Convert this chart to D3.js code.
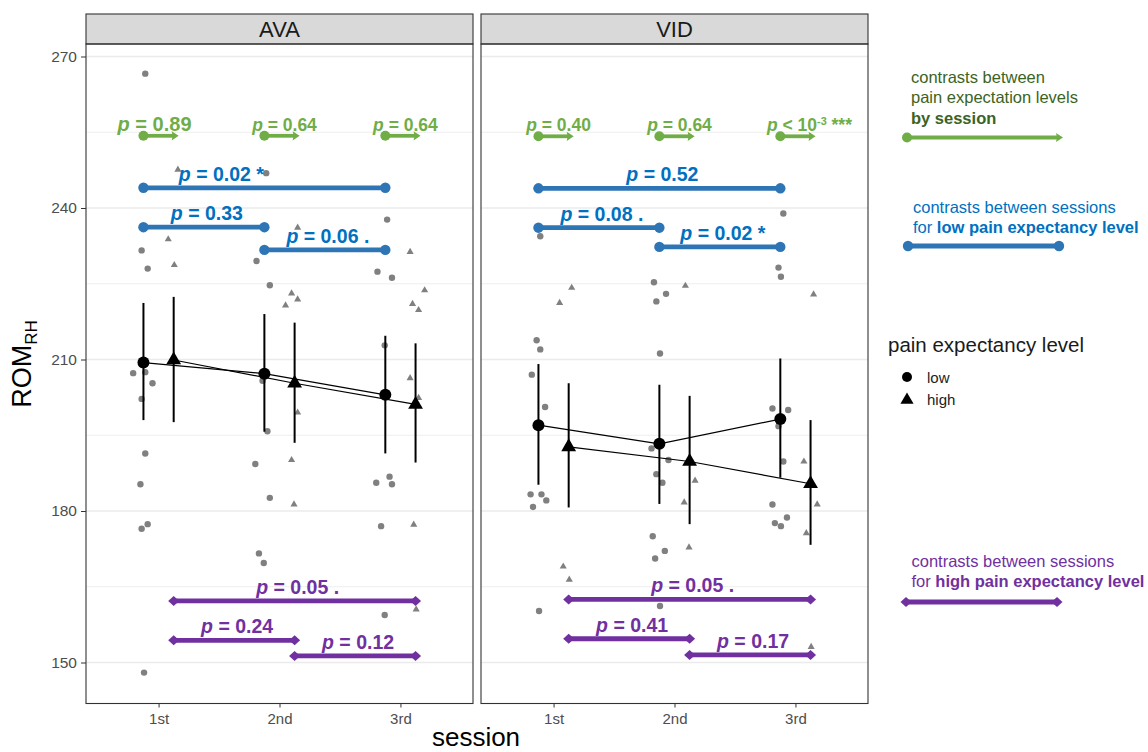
<!DOCTYPE html>
<html>
<head>
<meta charset="utf-8">
<script src="https://cdn.jsdelivr.net/npm/d3@7"></script>
<style>
  body { margin: 0; background: #fff; }
  svg { font-family: "Liberation Sans", Arial, sans-serif; }
</style>
</head>
<body>
<div id="main"></div>
<script>
// ---- data ----
var panels = ['AVA', 'VID'];
var sessions = ['1st', '2nd', '3rd'];
var yTicks = [150, 180, 210, 240, 270];
var yMinor = [165, 195, 225, 255];

// estimated means with error bars: panel, level, session, mean, lower, upper
var means = [
  ['AVA', 'low', '1st', 209.4, 198.0, 221.2],
  ['AVA', 'low', '2nd', 207.2, 195.7, 219.0],
  ['AVA', 'low', '3rd', 203.0, 191.4, 214.7],
  ['AVA', 'high', '1st', 209.9, 197.6, 222.4],
  ['AVA', 'high', '2nd', 205.3, 193.5, 217.3],
  ['AVA', 'high', '3rd', 201.1, 189.6, 213.2],
  ['VID', 'low', '1st', 197.0, 185.2, 209.1],
  ['VID', 'low', '2nd', 193.3, 181.4, 205.0],
  ['VID', 'low', '3rd', 198.2, 186.6, 210.2],
  ['VID', 'high', '1st', 192.7, 180.7, 205.3],
  ['VID', 'high', '2nd', 189.8, 177.4, 202.8],
  ['VID', 'high', '3rd', 185.4, 173.3, 198.0]
];

// individual observations: session, jitter (session units), value
var avaLow = [
  ['1st', -0.11, 266.6], ['1st', -0.14, 231.6], ['1st', -0.09, 228.0], ['1st', -0.14, 209.0],
  ['1st', -0.21, 207.3], ['1st', -0.11, 207.5], ['1st', -0.05, 205.3], ['1st', -0.14, 202.2],
  ['1st', -0.11, 191.4], ['1st', -0.15, 185.3], ['1st', -0.09, 177.4], ['1st', -0.14, 176.5],
  ['1st', -0.12, 148.0],
  ['2nd', -0.11, 246.9], ['2nd', -0.19, 229.5], ['2nd', -0.08, 224.7], ['2nd', -0.14, 205.8],
  ['2nd', -0.10, 195.8], ['2nd', -0.20, 189.3], ['2nd', -0.08, 182.6], ['2nd', -0.17, 171.6],
  ['2nd', -0.13, 169.7],
  ['3rd', -0.11, 237.7], ['3rd', -0.19, 227.4], ['3rd', -0.07, 226.2], ['3rd', -0.13, 212.8],
  ['3rd', -0.20, 185.6], ['3rd', -0.09, 186.8], ['3rd', -0.07, 185.3], ['3rd', -0.16, 177.0],
  ['3rd', -0.13, 159.4]
];
var avaHigh = [
  ['1st', 0.16, 247.6], ['1st', 0.08, 233.8], ['1st', 0.13, 228.7],
  ['2nd', 0.15, 236.1], ['2nd', 0.10, 223.1], ['2nd', 0.15, 221.9], ['2nd', 0.05, 220.7],
  ['2nd', 0.15, 199.5], ['2nd', 0.10, 190.1], ['2nd', 0.12, 181.3],
  ['3rd', 0.08, 231.3], ['3rd', 0.20, 223.7], ['3rd', 0.10, 221.0], ['3rd', 0.15, 219.8],
  ['3rd', 0.08, 206.3], ['3rd', 0.15, 202.4], ['3rd', 0.11, 177.3], ['3rd', 0.13, 160.5]
];
var vidLow = [
  ['1st', -0.11, 234.4], ['1st', -0.14, 213.8], ['1st', -0.11, 212.0], ['1st', -0.18, 207.0],
  ['1st', -0.07, 200.6], ['1st', -0.19, 183.3], ['1st', -0.10, 183.3], ['1st', -0.06, 182.1],
  ['1st', -0.17, 180.8], ['1st', -0.12, 160.2],
  ['2nd', -0.17, 225.3], ['2nd', -0.07, 223.0], ['2nd', -0.15, 221.5], ['2nd', -0.12, 211.2],
  ['2nd', -0.19, 192.4], ['2nd', -0.05, 190.1], ['2nd', -0.15, 187.3], ['2nd', -0.10, 185.6],
  ['2nd', -0.18, 175.0], ['2nd', -0.08, 172.1], ['2nd', -0.16, 170.6], ['2nd', -0.12, 161.2],
  ['3rd', -0.10, 238.9], ['3rd', -0.14, 228.2], ['3rd', -0.12, 226.4], ['3rd', -0.19, 200.3],
  ['3rd', -0.06, 200.0], ['3rd', -0.14, 196.8], ['3rd', -0.10, 189.8], ['3rd', -0.19, 181.3],
  ['3rd', -0.07, 178.7], ['3rd', -0.17, 177.6], ['3rd', -0.12, 177.0]
];
var vidHigh = [
  ['1st', 0.15, 224.2], ['1st', 0.05, 221.2], ['1st', 0.08, 169.0], ['1st', 0.13, 166.4],
  ['2nd', 0.09, 224.6], ['2nd', 0.17, 186.0], ['2nd', 0.08, 181.7], ['2nd', 0.12, 172.8],
  ['3rd', 0.15, 222.9], ['3rd', 0.07, 189.8], ['3rd', 0.18, 181.3], ['3rd', 0.09, 175.6],
  ['3rd', 0.13, 153.1]
];

// contrasts low vs high within a session: panel, session, y, label
var levelContrasts = [
  ['AVA', '1st', 254.3, '= 0.89'], ['AVA', '2nd', 254.3, '= 0.64'], ['AVA', '3rd', 254.3, '= 0.64'],
  ['VID', '1st', 254.2, '= 0.40'], ['VID', '2nd', 254.2, '= 0.64'], ['VID', '3rd', 254.2, '< 10^-3^ ***']
];
// contrasts between sessions, low level: panel, from, to, y, label
var lowContrasts = [
  ['AVA', '1st', '3rd', 244.0, '= 0.02 *'], ['AVA', '1st', '2nd', 236.2, '= 0.33'], ['AVA', '2nd', '3rd', 231.7, '= 0.06 .'],
  ['VID', '1st', '3rd', 243.9, '= 0.52'], ['VID', '1st', '2nd', 236.1, '= 0.08 .'], ['VID', '2nd', '3rd', 232.3, '= 0.02 *']
];
// contrasts between sessions, high level
var highContrasts = [
  ['AVA', '1st', '3rd', 162.2, '= 0.05 .'], ['AVA', '1st', '2nd', 154.4, '= 0.24'], ['AVA', '2nd', '3rd', 151.3, '= 0.12'],
  ['VID', '1st', '3rd', 162.5, '= 0.05 .'], ['VID', '1st', '2nd', 154.7, '= 0.41'], ['VID', '2nd', '3rd', 151.5, '= 0.17']
];

var raw = {AVA: {low: avaLow, high: avaHigh}, VID: {low: vidLow, high: vidHigh}};

// ---- layout ----
var W = 1148, H = 752;
var panelTop = 44, panelBottom = 703.5, stripTop = 14, panelW = 387;
var panelX = {AVA: 86, VID: 481};
var green = '#70AD47', blue = '#2E75B6', blueText = '#0070C0', purple = '#7030A0';

var svg = d3.select('#main').append('svg').attr('width', W).attr('height', H);

var x = d3.scaleLinear().domain([0.4, 3.6]).range([0, panelW]);
var y = d3.scaleLinear().domain([150, 270]).range([662.5, 56.5]);
var dodge = {low: -0.125, high: 0.125};
function sx(s, lvl, j) { return x(sessions.indexOf(s) + 1 + (lvl ? dodge[lvl] : 0) + (j || 0)); }

// label nudge (px) for the one hand-placed annotation
var nudge = {'AVA|1st|3rd|low': -43};

function markerCircle(g, cx, cy, col, r) {
  g.append('circle').attr('cx', cx).attr('cy', cy).attr('r', r || 5.2).attr('fill', col);
}
function markerDiamond(g, cx, cy, col) {
  g.append('path').attr('d', 'M' + (cx - 5.5) + ',' + cy + 'L' + cx + ',' + (cy - 5) + 'L' + (cx + 5.5) + ',' + cy + 'L' + cx + ',' + (cy + 5) + 'Z').attr('fill', col);
}
function markerArrow(g, tx, cy, col) {
  g.append('path').attr('d', 'M' + (tx + 5) + ',' + cy + 'L' + (tx - 2) + ',' + (cy - 4.6) + 'L' + (tx - 1) + ',' + cy + 'L' + (tx - 2) + ',' + (cy + 4.6) + 'Z').attr('fill', col);
}

function pLabel(g, cx, baseY, label, col, size) {
  var t = g.append('text').attr('x', cx).attr('y', baseY).attr('text-anchor', 'middle')
    .attr('font-weight', 'bold').attr('font-size', size).attr('fill', col);
  t.append('tspan').attr('font-style', 'italic').text('p');
  var parts = label.split('^');
  t.append('tspan').text(' ' + parts[0]);
  if (parts.length > 1) {
    t.append('tspan').attr('font-size', size * 0.62).attr('dy', -size * 0.38).text(parts[1]);
    t.append('tspan').attr('dy', size * 0.38).text(parts[2]);
  }
}

panels.forEach(function(panel) {
  var g = svg.append('g').attr('transform', 'translate(' + panelX[panel] + ',0)');

  // strip
  g.append('rect').attr('x', 0).attr('y', stripTop).attr('width', panelW).attr('height', panelTop - stripTop)
    .attr('fill', '#d9d9d9').attr('stroke', '#333').attr('stroke-width', 1.1);
  g.append('text').attr('x', panelW / 2).attr('y', 37).attr('text-anchor', 'middle')
    .attr('font-size', 22).attr('fill', '#1a1a1a').text(panel);

  // grid
  g.selectAll('.minor').data(yMinor).enter().append('line')
    .attr('x1', 0).attr('x2', panelW).attr('y1', function(d) { return y(d); }).attr('y2', function(d) { return y(d); })
    .attr('stroke', '#eeeeee').attr('stroke-width', 1);
  g.selectAll('.major').data(yTicks).enter().append('line')
    .attr('x1', 0).attr('x2', panelW).attr('y1', function(d) { return y(d); }).attr('y2', function(d) { return y(d); })
    .attr('stroke', '#ebebeb').attr('stroke-width', 1.3);

  // raw observations
  ['low', 'high'].forEach(function(lvl) {
    var pts = raw[panel][lvl];
    if (lvl === 'low') {
      g.selectAll('.raw-' + lvl).data(pts).enter().append('circle')
        .attr('cx', function(d) { return sx(d[0], null, d[1]); })
        .attr('cy', function(d) { return y(d[2]); })
        .attr('r', 3.2).attr('fill', '#808080');
    } else {
      g.selectAll('.raw-' + lvl).data(pts).enter().append('path')
        .attr('d', d3.symbol().type(d3.symbolTriangle).size(22))
        .attr('transform', function(d) { return 'translate(' + sx(d[0], null, d[1]) + ',' + y(d[2]) + ')'; })
        .attr('fill', '#808080');
    }
  });

  // mean lines
  var line = d3.line().x(function(d) { return sx(d[2], d[1]); }).y(function(d) { return y(d[3]); });
  ['low', 'high'].forEach(function(lvl) {
    var rows = means.filter(function(d) { return d[0] === panel && d[1] === lvl; });
    g.append('path').datum(rows).attr('d', line).attr('fill', 'none').attr('stroke', '#000').attr('stroke-width', 1.2);
  });

  var rows = means.filter(function(d) { return d[0] === panel; });
  g.selectAll('.err').data(rows).enter().append('line')
    .attr('x1', function(d) { return sx(d[2], d[1]); }).attr('x2', function(d) { return sx(d[2], d[1]); })
    .attr('y1', function(d) { return y(d[4]); }).attr('y2', function(d) { return y(d[5]); })
    .attr('stroke', '#000').attr('stroke-width', 2);
  g.selectAll('.mlow').data(rows.filter(function(d) { return d[1] === 'low'; })).enter().append('circle')
    .attr('cx', function(d) { return sx(d[2], d[1]); }).attr('cy', function(d) { return y(d[3]); })
    .attr('r', 6).attr('fill', '#000');
  g.selectAll('.mhigh').data(rows.filter(function(d) { return d[1] === 'high'; })).enter().append('path')
    .attr('d', d3.symbol().type(d3.symbolTriangle).size(95))
    .attr('transform', function(d) { return 'translate(' + sx(d[2], d[1]) + ',' + y(d[3]) + ')'; })
    .attr('fill', '#000');

  // level contrasts (green)
  levelContrasts.filter(function(d) { return d[0] === panel; }).forEach(function(d) {
    var x1 = sx(d[1], 'low'), x2 = sx(d[1], 'high'), yy = y(d[2]);
    g.append('line').attr('x1', x1).attr('x2', x2).attr('y1', yy).attr('y2', yy).attr('stroke', green).attr('stroke-width', 3.8);
    markerCircle(g, x1, yy, green, 5);
    markerArrow(g, x2, yy, green);
    var big = d[3] === '= 0.89';
    var wide = d[3].indexOf('^') >= 0;
    pLabel(g, (x1 + x2) / 2 + (big ? -4 : wide ? 14 : 5), yy - 5, d[3], green, big ? 20 : 17.5);
  });

  // session contrasts
  [[lowContrasts, 'low', blue, blueText], [highContrasts, 'high', purple, purple]].forEach(function(set) {
    set[0].filter(function(d) { return d[0] === panel; }).forEach(function(d) {
      var x1 = sx(d[1], set[1]), x2 = sx(d[2], set[1]), yy = y(d[3]);
      g.append('line').attr('x1', x1).attr('x2', x2).attr('y1', yy).attr('y2', yy).attr('stroke', set[2]).attr('stroke-width', 4.8);
      if (set[1] === 'low') { markerCircle(g, x1, yy, set[2]); markerCircle(g, x2, yy, set[2]); }
      else { markerDiamond(g, x1, yy, set[2]); markerDiamond(g, x2, yy, set[2]); }
      var n = nudge[[panel, d[1], d[2], set[1]].join('|')] || 3;
      pLabel(g, (x1 + x2) / 2 + n, yy - 7, d[4], set[3], 19.5);
    });
  });

  // panel border
  g.append('rect').attr('x', 0).attr('y', panelTop).attr('width', panelW).attr('height', panelBottom - panelTop)
    .attr('fill', 'none').attr('stroke', '#333').attr('stroke-width', 1.1);

  // x axis
  var xa = g.append('g').attr('transform', 'translate(0,' + panelBottom + ')')
    .call(d3.axisBottom(x).tickValues([1, 2, 3]).tickFormat(function(i) { return sessions[i - 1]; }).tickSize(4).tickPadding(6));
  xa.select('.domain').remove();
  xa.selectAll('line').attr('stroke', '#333');
  xa.selectAll('text').attr('font-size', 15).attr('fill', '#4d4d4d').attr('font-family', null);
});

// y axis on the left panel
var ya = svg.append('g').attr('transform', 'translate(' + panelX.AVA + ',0)')
  .call(d3.axisLeft(y).tickValues(yTicks).tickSize(5).tickPadding(4));
ya.select('.domain').remove();
ya.selectAll('line').attr('stroke', '#333');
ya.selectAll('text').attr('font-size', 15.5).attr('fill', '#4d4d4d').attr('font-family', null);

// axis titles
var yt = svg.append('text').attr('transform', 'translate(31,364) rotate(-90)').attr('text-anchor', 'middle')
  .attr('font-size', 27).attr('fill', '#000');
yt.append('tspan').text('ROM');
yt.append('tspan').attr('font-size', 17).attr('dy', 6).text('RH');
svg.append('text').attr('x', 476).attr('y', 746).attr('text-anchor', 'middle')
  .attr('font-size', 26).attr('fill', '#000').text('session');

// ---- right-hand legends ----
function legendText(lines, x0, y0, col) {
  lines.forEach(function(parts, i) {
    var t = svg.append('text').attr('x', x0).attr('y', y0 + i * 20.3).attr('font-size', 16.5).attr('fill', col);
    parts.forEach(function(p) { t.append('tspan').attr('font-weight', p[1] ? 'bold' : null).text(p[0]); });
  });
}
legendText([[['contrasts between', 0]], [['pain expectation levels', 0]], [['by session', 1]]], 911, 83, '#3B6323');
svg.append('line').attr('x1', 907).attr('x2', 1057).attr('y1', 137.5).attr('y2', 137.5).attr('stroke', green).attr('stroke-width', 3.8);
markerCircle(svg, 907, 137.5, green, 5);
markerArrow(svg, 1058, 137.5, green);

legendText([[['contrasts between sessions', 0]], [['for ', 0], ['low pain expectancy level', 1]]], 913, 212.5, blueText);
svg.append('line').attr('x1', 908).attr('x2', 1059).attr('y1', 246).attr('y2', 246).attr('stroke', blue).attr('stroke-width', 4.8);
markerCircle(svg, 908, 246, blue);
markerCircle(svg, 1059, 246, blue);

legendText([[['contrasts between sessions', 0]], [['for ', 0], ['high pain expectancy level', 1]]], 911.5, 566.5, purple);
svg.append('line').attr('x1', 906).attr('x2', 1057).attr('y1', 602).attr('y2', 602).attr('stroke', purple).attr('stroke-width', 4.8);
markerDiamond(svg, 906, 602, purple);
markerDiamond(svg, 1057, 602, purple);

// shape legend
svg.append('text').attr('x', 888).attr('y', 352).attr('font-size', 20.5).attr('fill', '#1a1a1a').text('pain expectancy level');
svg.append('circle').attr('cx', 907).attr('cy', 377).attr('r', 5).attr('fill', '#000');
svg.append('path').attr('d', d3.symbol().type(d3.symbolTriangle).size(75)).attr('transform', 'translate(907,400)').attr('fill', '#000');
svg.append('text').attr('x', 927).attr('y', 382.5).attr('font-size', 15).attr('fill', '#222').text('low');
svg.append('text').attr('x', 927).attr('y', 405).attr('font-size', 15).attr('fill', '#222').text('high');
</script>
</body>
</html>
